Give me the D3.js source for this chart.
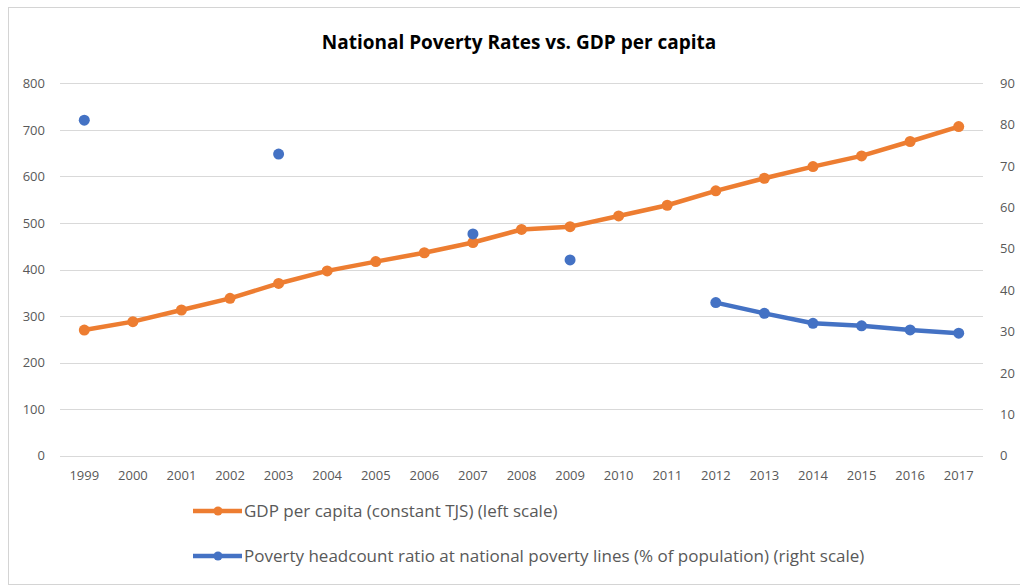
<!doctype html>
<html>
<head>
	<meta charset='utf-8'/>
	<script src="https://d3js.org/d3.v7.min.js"></script>
	<title>Poverty vs GDP</title>
	<style>
		body { margin: 0; background: #fff; }
		text { font-family: "Open Sans", sans-serif; fill: #595959; }
	</style>
</head>
<body>
	<div id="chart"></div>
	<script>
		var years = ["1999","2000","2001","2002","2003","2004","2005","2006","2007","2008",
			"2009","2010","2011","2012","2013","2014","2015","2016","2017"];
		var gdp = [270, 288, 313, 338, 370, 397, 417, 436, 458, 486,
			492, 515, 538, 569, 596, 621, 644, 675, 707];
		// null = no survey that year
		var poverty = [81.1, null, null, null, 72.9, null, null, null, 53.6, null,
			47.3, null, null, 37.0, 34.4, 32.0, 31.4, 30.4, 29.6];
		var leftTicks = [0, 100, 200, 300, 400, 500, 600, 700, 800];
		var rightTicks = [0, 10, 20, 30, 40, 50, 60, 70, 80, 90];
		var legendNames = ["GDP per capita (constant TJS) (left scale)",
			"Poverty headcount ratio at national poverty lines (% of population) (right scale)"];

		var width = 1020, height = 588;
		var orange = "#ed7d31", blue = "#4472c4";

		var svg = d3.select("#chart").append("svg")
			.attr("width", width)
			.attr("height", height);

		// chart frame
		svg.append("rect")
			.attr("x", 8.5).attr("y", 7.5)
			.attr("width", 1030).attr("height", 577)
			.attr("fill", "none").attr("stroke", "#d4d4d4");

		svg.append("text")
			.attr("x", 519).attr("y", 49)
			.attr("text-anchor", "middle")
			.style("font-size", "19px").style("font-weight", "bold")
			.style("fill", "#000")
			.text("National Poverty Rates vs. GDP per capita");

		var x = d3.scaleBand().domain(years).range([60, 983]);
		var yL = d3.scaleLinear().domain([0, 800]).range([455.7, 83.3]);
		var yR = d3.scaleLinear().domain([0, 90]).range([455.7, 83.3]);

		// gridlines
		svg.append("g").selectAll("line")
			.data(leftTicks).enter().append("line")
			.attr("x1", 60).attr("x2", 983)
			.attr("y1", d => Math.round(yL(d)) + 0.5)
			.attr("y2", d => Math.round(yL(d)) + 0.5)
			.attr("stroke", "#d9d9d9").attr("stroke-width", 1);

		var axL = svg.append("g").attr("transform", "translate(60,0)")
			.call(d3.axisLeft(yL).tickValues(leftTicks).tickSize(0).tickPadding(15));
		var axR = svg.append("g").attr("transform", "translate(983,0)")
			.call(d3.axisRight(yR).tickValues(rightTicks).tickSize(0).tickPadding(17));
		var axB = svg.append("g").attr("transform", "translate(0,455.7)")
			.call(d3.axisBottom(x).tickSize(0).tickPadding(15));
		[axL, axR, axB].forEach(function(a) {
			a.select(".domain").remove();
			a.selectAll("text").style("font-size", "13px").style("fill", "#595959")
				.style("font-family", "'Open Sans', sans-serif");
		});

		function cx(d, i) { return x(years[i]) + x.bandwidth() / 2; }

		// GDP line
		var lineL = d3.line().x(cx).y(d => yL(d));
		svg.append("path").datum(gdp)
			.attr("d", lineL)
			.attr("fill", "none").attr("stroke", orange)
			.attr("stroke-width", 4.5).attr("stroke-linejoin", "round");
		svg.append("g").selectAll("circle").data(gdp).enter().append("circle")
			.attr("cx", cx).attr("cy", d => yL(d)).attr("r", 5.5)
			.attr("fill", orange);

		// poverty line (gaps where missing)
		var lineR = d3.line().defined(d => d != null).x(cx).y(d => yR(d));
		svg.append("path").datum(poverty)
			.attr("d", lineR)
			.attr("fill", "none").attr("stroke", blue)
			.attr("stroke-width", 4.5).attr("stroke-linejoin", "round");
		svg.append("g").selectAll("circle").data(poverty).enter()
			.filter(d => d != null)
			.append("circle")
			.attr("cx", function(d) { return cx(d, poverty.indexOf(d)); })
			.attr("cy", d => yR(d)).attr("r", 5.5)
			.attr("fill", blue);

		// legend
		var leg = svg.append("g").selectAll("g")
			.data(legendNames).enter().append("g")
			.attr("transform", (d, i) => "translate(193," + (511 + i * 45) + ")");
		leg.append("line")
			.attr("x1", 0).attr("x2", 49).attr("y1", 0).attr("y2", 0)
			.attr("stroke", (d, i) => i ? blue : orange).attr("stroke-width", 4.5);
		leg.append("circle").attr("cx", 25).attr("cy", 0).attr("r", 4.5)
			.attr("fill", (d, i) => i ? blue : orange);
		leg.append("text")
			.attr("x", 51).attr("y", 0).attr("dy", "0.35em")
			.style("font-size", "17px")
			.text(d => d);
	</script>
</body>
</html>
